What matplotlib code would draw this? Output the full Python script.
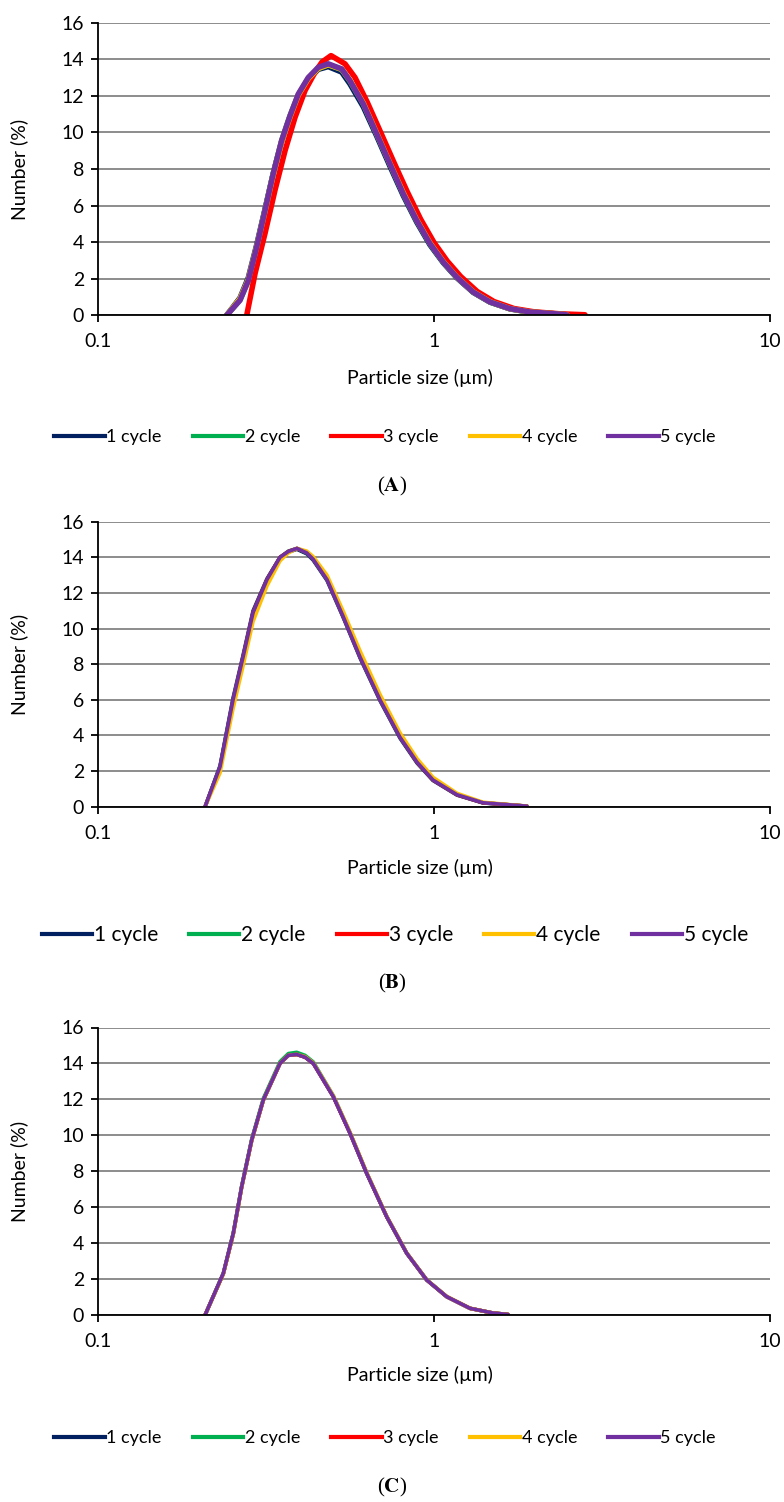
import numpy as np
import matplotlib
matplotlib.use("Agg")
import matplotlib.pyplot as plt
from matplotlib.ticker import FixedLocator, FixedFormatter, NullLocator

plt.rcParams['font.family'] = ['Lato', 'DejaVu Sans']
plt.rcParams['mathtext.fontset'] = 'stix'

# particle sizes (um)
sizes_a = [0.2415, 0.2646, 0.2801, 0.2967, 0.3141, 0.3323, 0.3521, 0.3727, 0.3946, 0.4225,
           0.4524, 0.4845, 0.5312, 0.5623, 0.6161, 0.6753, 0.7396, 0.8100, 0.8881, 0.9730,
           1.066, 1.168, 1.309, 1.468, 1.684, 1.931, 2.425, 2.488]
sizes_a_red = [0.2771, 0.2935, 0.3141, 0.3362, 0.3603, 0.3859, 0.4132, 0.4425, 0.4642, 0.4937,
               0.5434, 0.5821, 0.6330, 0.6940, 0.7603, 0.8327, 0.9128, 1.0, 1.0955, 1.2010,
               1.345, 1.509, 1.730, 1.984, 2.371, 2.814]
sizes_b = [0.2083, 0.2308, 0.2523, 0.2702, 0.2894, 0.3184, 0.3481, 0.3686, 0.3910, 0.4180,
           0.4365, 0.4804, 0.5360, 0.6024, 0.6908, 0.7920, 0.8902, 0.9931, 1.171, 1.399, 1.891]
sizes_c = [0.2083, 0.2361, 0.2528, 0.2677, 0.2868, 0.3105, 0.3481, 0.3686, 0.3903, 0.4132,
           0.4374, 0.5017, 0.5623, 0.6304, 0.7232, 0.8294, 0.9513, 1.091, 1.280, 1.498, 1.661]

# panel A - number (%)
a_cycle1 = [0, 0.95, 2.05, 3.85, 5.8, 7.75, 9.5, 10.85, 12.0, 12.9, 13.45, 13.6, 13.3, 12.65,
            11.4, 9.8, 8.15, 6.55, 5.1, 3.85, 2.87, 2.06, 1.25, 0.72, 0.35, 0.17, 0.05, 0.02]
a_cycle2 = [0, 0.85, 1.9, 3.75, 5.75, 7.75, 9.55, 10.9, 12.05, 12.95, 13.5, 13.7, 13.45, 12.8,
            11.55, 9.9, 8.27, 6.64, 5.18, 3.91, 2.9, 2.08, 1.27, 0.73, 0.36, 0.18, 0.05, 0.02]
a_cycle3 = [0, 2.3, 4.48, 6.83, 9.0, 10.83, 12.29, 13.29, 13.85, 14.2, 13.75, 13.0, 11.65, 10.0,
            8.35, 6.75, 5.25, 3.98, 2.96, 2.12, 1.3, 0.75, 0.37, 0.19, 0.08, 0.03]
a_cycle4 = [0, 0.9, 1.95, 3.75, 5.7, 7.7, 9.5, 10.85, 12.05, 12.95, 13.5, 13.7, 13.45, 12.85,
            11.6, 9.95, 8.3, 6.7, 5.22, 3.95, 2.93, 2.1, 1.28, 0.74, 0.36, 0.18, 0.05, 0.02]
a_cycle5 = [0, 0.82, 1.9, 3.73, 5.73, 7.74, 9.56, 10.9, 12.1, 13.0, 13.56, 13.75, 13.47, 12.83,
            11.56, 9.92, 8.28, 6.65, 5.19, 3.92, 2.91, 2.09, 1.27, 0.73, 0.36, 0.18, 0.05, 0.02]

# panel B
b_cycle1 = [0, 2.3, 6.1, 8.5, 11.0, 12.8, 14.0, 14.3, 14.45, 14.2, 13.85, 12.7, 10.65, 8.35,
            5.95, 3.85, 2.45, 1.47, 0.65, 0.21, 0.03]
b_cycle2 = [0, 2.25, 6.0, 8.4, 10.9, 12.75, 14.0, 14.35, 14.5, 14.25, 13.9, 12.75, 10.7, 8.4,
            6.0, 3.9, 2.5, 1.5, 0.67, 0.22, 0.03]
b_cycle3 = [0, 2.2, 5.95, 8.4, 10.9, 12.75, 14.0, 14.33, 14.5, 14.28, 13.92, 12.78, 10.72, 8.42,
            6.02, 3.92, 2.5, 1.5, 0.67, 0.22, 0.03]
b_cycle4 = [0, 1.9, 5.5, 7.9, 10.4, 12.4, 13.8, 14.25, 14.5, 14.35, 14.05, 13.0, 11.0, 8.75,
            6.3, 4.15, 2.7, 1.65, 0.75, 0.25, 0.03]
b_cycle5 = [0, 2.25, 6.0, 8.4, 10.9, 12.75, 14.0, 14.33, 14.5, 14.25, 13.9, 12.75, 10.7, 8.4,
            6.0, 3.9, 2.5, 1.5, 0.67, 0.22, 0.03]

# panel C
c_cycle1 = [0, 2.32, 4.55, 7.14, 9.74, 11.97, 14.0, 14.45, 14.5, 14.35, 14.0, 12.15, 10.12, 7.89,
            5.47, 3.44, 1.95, 1.02, 0.37, 0.11, 0.03]
c_cycle2 = [0, 2.32, 4.58, 7.18, 9.8, 12.05, 14.1, 14.55, 14.62, 14.45, 14.08, 12.2, 10.15, 7.9,
            5.47, 3.44, 1.95, 1.02, 0.37, 0.11, 0.03]
c_cycle3 = [0, 2.3, 4.53, 7.12, 9.72, 11.95, 14.0, 14.45, 14.5, 14.35, 14.0, 12.15, 10.12, 7.89,
            5.47, 3.44, 1.95, 1.02, 0.37, 0.11, 0.03]
c_cycle4 = [0, 2.28, 4.5, 7.1, 9.7, 11.95, 14.0, 14.45, 14.5, 14.38, 14.03, 12.2, 10.18, 7.94,
            5.5, 3.46, 1.96, 1.03, 0.37, 0.11, 0.03]
c_cycle5 = [0, 2.32, 4.55, 7.14, 9.74, 11.97, 14.0, 14.45, 14.5, 14.35, 14.0, 12.15, 10.12, 7.89,
            5.47, 3.44, 1.95, 1.02, 0.37, 0.11, 0.03]

labels = ['1 cycle', '2 cycle', '3 cycle', '4 cycle', '5 cycle']
colors = ['#002060', '#00B050', '#FF0000', '#FFC000', '#7030A0']
y_ticks = [0, 2, 4, 6, 8, 10, 12, 14, 16]
x_ticks = [0.1, 1, 10]
x_ticklabels = ['0.1', '1', '10']

W, H = 784, 1502
fig = plt.figure(figsize=(W / 100, H / 100), dpi=100)


def px_rect(left, top, right, bottom):
    return [left / W, 1 - bottom / H, (right - left) / W, (bottom - top) / H]


panels = [
    dict(rect=px_rect(98, 22.7, 770, 315.3), lw=4.0,
         series=[(sizes_a, a_cycle1), (sizes_a, a_cycle2), (sizes_a_red, a_cycle3),
                 (sizes_a, a_cycle4), (sizes_a, a_cycle5)],
         xlabel_y=378, leg_y=437, leg_x=385, leg_fs=13, leg_hl=2.8, leg_cs=1.7,
         tag='A', tag_y=486),
    dict(rect=px_rect(98, 521.7, 770, 806.7), lw=2.6,
         series=[(sizes_b, b_cycle1), (sizes_b, b_cycle2), (sizes_b, b_cycle3),
                 (sizes_b, b_cycle4), (sizes_b, b_cycle5)],
         xlabel_y=868, leg_y=935, leg_x=395, leg_fs=15, leg_hl=2.4, leg_cs=1.5,
         tag='B', tag_y=983),
    dict(rect=px_rect(98, 1027.5, 770, 1315), lw=2.6,
         series=[(sizes_c, c_cycle1), (sizes_c, c_cycle2), (sizes_c, c_cycle3),
                 (sizes_c, c_cycle4), (sizes_c, c_cycle5)],
         xlabel_y=1375, leg_y=1438, leg_x=385, leg_fs=13, leg_hl=2.8, leg_cs=1.7,
         tag='C', tag_y=1487),
]

for p in panels:
    ax = fig.add_axes(p['rect'])
    for (xs, ys), lab, col in zip(p['series'], labels, colors):
        ax.plot(xs, ys, color=col, lw=p['lw'], solid_capstyle='round',
                solid_joinstyle='round', label=lab)

    ax.set_xscale('log')
    ax.set_xlim(0.1, 10)
    ax.set_ylim(0, 16)
    ax.xaxis.set_major_locator(FixedLocator(x_ticks))
    ax.xaxis.set_major_formatter(FixedFormatter(x_ticklabels))
    ax.xaxis.set_minor_locator(NullLocator())
    ax.set_yticks(y_ticks)
    ax.yaxis.grid(True, color='#8c8c8c', lw=1.4)
    ax.set_axisbelow(True)
    for s in ['top', 'right']:
        ax.spines[s].set_visible(False)
    for s in ['left', 'bottom']:
        ax.spines[s].set_linewidth(1.3)
        ax.spines[s].set_color('black')
    ax.tick_params(axis='both', direction='out', length=5, width=1.3, labelsize=14)
    ax.tick_params(axis='y', pad=5)
    ax.tick_params(axis='x', pad=8)
    for t in ax.get_xticklabels() + ax.get_yticklabels():
        t.set_clip_on(False)

    ax.set_ylabel('Number (%)', fontsize=14)
    ax.yaxis.set_label_coords(-0.104, 0.5)
    fig.text(420 / W, 1 - p['xlabel_y'] / H, 'Particle size (µm)', fontsize=14,
             ha='center', va='center')

    leg_handles = [plt.Line2D([], [], color=c, lw=3.0) for c in colors]
    fig.legend(leg_handles, labels, loc='center',
               bbox_to_anchor=(p['leg_x'] / W, 1 - p['leg_y'] / H),
               ncol=5, frameon=False, fontsize=p['leg_fs'], handlelength=p['leg_hl'],
               handletextpad=0.1, columnspacing=p['leg_cs'])

    fig.text(392 / W, 1 - p['tag_y'] / H, r'($\mathbf{' + p['tag'] + '}$)', fontsize=15,
             family='Liberation Serif', ha='center', va='center')

fig.savefig('out.png', dpi=100, facecolor='white')
